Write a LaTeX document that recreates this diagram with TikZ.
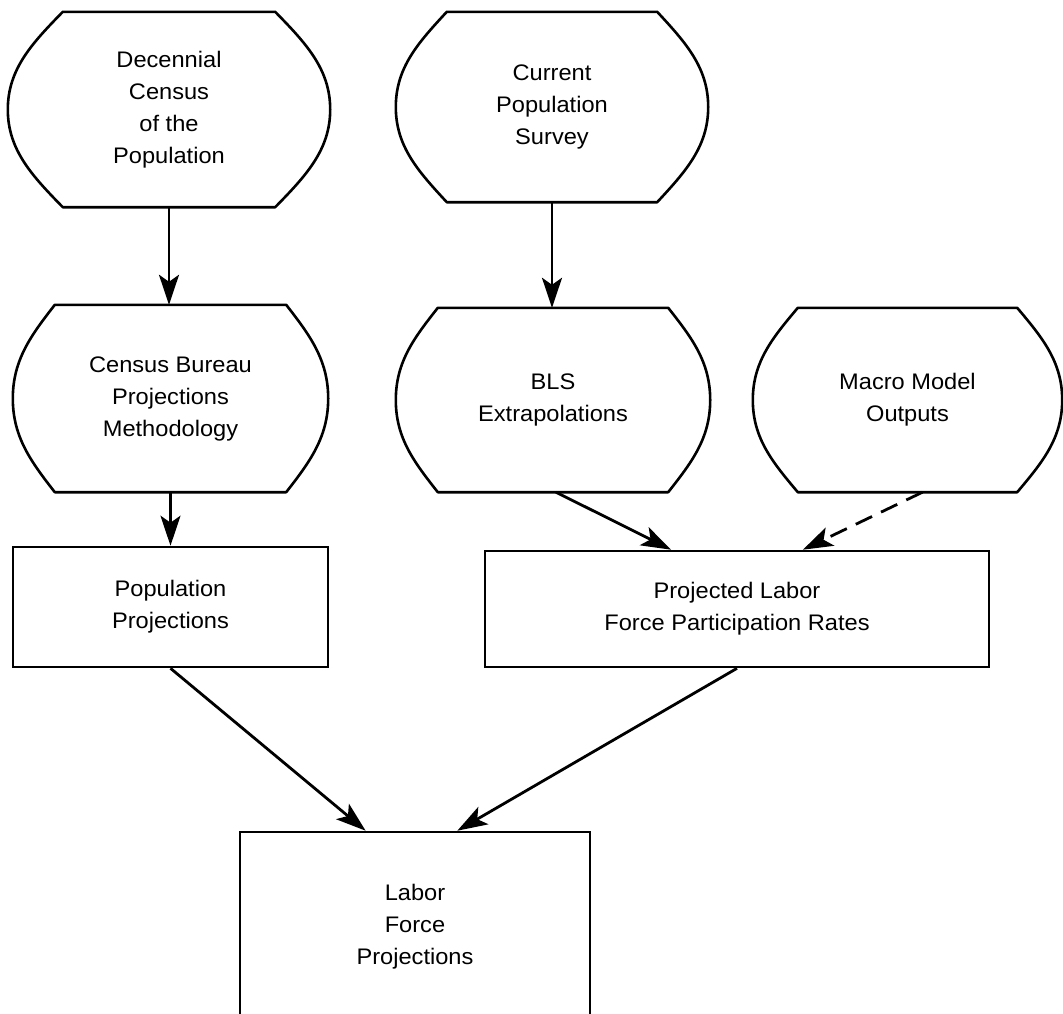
\documentclass[tikz,border=0pt]{standalone}
\usepackage{fontspec}
\setmainfont{Liberation Sans}[FakeStretch=1.05]
\usetikzlibrary{calc,arrows.meta}
\tikzset{
  lbl/.style={font=\fontsize{22.5}{32}\selectfont, align=center, inner sep=0pt},
  rectbox/.style={lbl, draw, line width=2.6pt},
  outl/.style={line width=2.6pt, line join=round},
  arr/.style={line width=2.8pt, -{Stealth[length=30pt,width=20pt,inset=7pt]}},
  dasharr/.style={arr, dash pattern=on 18pt off 10pt},
}
\newcommand\drumoutline[3]{%
  \draw[outl] ($(#1.north west)+(#2,0)$) -- ($(#1.north east)+(-#2,0)$)
    .. controls +(0.55*#2,0.32*#3) and +(0,-0.42*#3) .. (#1.east)
    .. controls +(0,0.42*#3) and +(0.55*#2,-0.32*#3) .. ($(#1.south east)+(-#2,0)$)
    -- ($(#1.south west)+(#2,0)$)
    .. controls +(-0.55*#2,-0.32*#3) and +(0,0.42*#3) .. (#1.west)
    .. controls +(0,-0.42*#3) and +(-0.55*#2,0.32*#3) .. ($(#1.north west)+(#2,0)$)
    -- cycle;}
\begin{document}
\begin{tikzpicture}[x=1pt,y=-1pt]
\useasboundingbox (0,0) rectangle (1063,1013);
\clip (0,0) rectangle (1063,1013);
% drum-shaped sources
\node[lbl, minimum width=322pt, minimum height=195pt] (dec) at (169,109.5) {Decennial\\Census\\of the\\Population};
\node[lbl, minimum width=312pt, minimum height=190pt] (cps) at (552,107) {Current\\Population\\Survey};
\node[lbl, minimum width=315pt, minimum height=187pt] (cbm) at (170.5,398.5) {Census Bureau\\Projections\\Methodology};
\node[lbl, minimum width=314pt, minimum height=184pt] (bls) at (553,400) {BLS\\Extrapolations};
\node[lbl, minimum width=309pt, minimum height=184pt] (mac) at (907.5,400) {Macro Model\\Outputs};
\drumoutline{dec}{55}{97}
\drumoutline{cps}{51}{95}
\drumoutline{cbm}{42}{93}
\drumoutline{bls}{42}{92}
\drumoutline{mac}{45}{92}
% rectangles
\node[rectbox, minimum width=315pt, minimum height=120pt] (pop) at (170.5,607) {Population\\Projections};
\node[rectbox, minimum width=504pt, minimum height=116pt] (plf) at (737,609) {Projected Labor\\Force Participation Rates};
\node[rectbox, minimum width=350pt, minimum height=190pt] (lfp) at (415,927) {Labor\\Force\\Projections};
% connectors
\draw[arr] (dec.south) -- (dec.south |- cbm.north);
\draw[arr] (cps.south) -- (cps.south |- bls.north);
\draw[arr] (cbm.south) -- (cbm.south |- pop.north);
\draw[arr] ($(bls.south)+(3,0)$) -- ($(plf.north west)!0.37!(plf.north east)$);
\draw[dasharr] ($(mac.south)+(15,0)$) -- ($(plf.north west)!0.63!(plf.north east)$);
\draw[arr] (pop.south) -- ($(lfp.north west)!0.36!(lfp.north east)$);
\draw[arr] (plf.south) -- ($(lfp.north west)!0.62!(lfp.north east)$);
\end{tikzpicture}
\end{document}
